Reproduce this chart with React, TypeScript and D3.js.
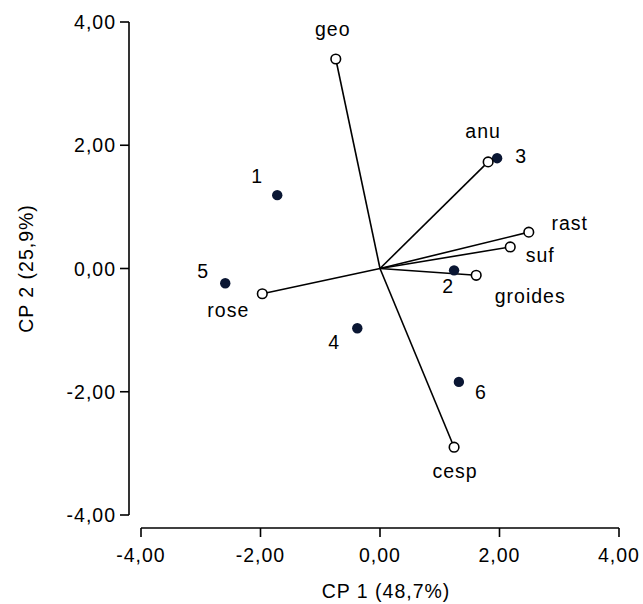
import React from 'react';
import * as d3 from 'd3';

// variable loadings (open circles with vectors)
const varNames = ['geo', 'anu', 'rast', 'suf', 'groides', 'rose', 'cesp'];
const varX = [-0.74, 1.81, 2.49, 2.18, 1.61, -1.97, 1.24];
const varY = [3.4, 1.73, 0.59, 0.35, -0.11, -0.41, -2.9];
// label offsets (px, baseline)
const varLabelDx = [-3, -5, 41, 30, 54, -34, 1];
const varLabelDy = [-23, -24, -2, 15, 28, 23, 31];

// samples (filled dots)
const obsNames = ['1', '2', '3', '4', '5', '6'];
const obsX = [-1.72, 1.24, 1.96, -0.38, -2.59, 1.32];
const obsY = [1.19, -0.03, 1.79, -0.97, -0.24, -1.84];
const obsLabelDx = [-20, -6, 24, -23, -22, 22];
const obsLabelDy = [-12, 23, 5, 21, -5, 17];

const tickVals = [-4, -2, 0, 2, 4];
const fmt = (d: number) => d.toFixed(2).replace('.', ',');

const App: React.FC = () => {
  const W = 643;
  const H = 604;
  const x = d3.scaleLinear().domain([-4, 4]).range([141, 619]);
  const y = d3.scaleLinear().domain([-4, 4]).range([515, 22]);
  const axisX = 129;
  const axisY = 528;
  const font = 'Arial, "Liberation Sans", sans-serif';
  const ink = '#000';
  const dot = '#0a1633';
  const fs = 19.5;
  const ls = 1;

  return (
    <svg width={W} height={H} style={{ position: 'absolute', left: 0, top: 0, background: '#fff' }} fontFamily={font}>
      {/* y axis */}
      <line x1={axisX} x2={axisX} y1={y(4)} y2={y(-4)} stroke={ink} strokeWidth={1.6} />
      {tickVals.map((t) => (
        <g key={'yt' + t}>
          <line x1={axisX - 9} x2={axisX} y1={y(t)} y2={y(t)} stroke={ink} strokeWidth={1.6} />
          <text x={axisX - 13} y={y(t) + 7} textAnchor="end" fontSize={fs} letterSpacing={ls} fill={ink}>
            {fmt(t)}
          </text>
        </g>
      ))}
      {/* x axis */}
      <line x1={x(-4)} x2={x(4)} y1={axisY} y2={axisY} stroke={ink} strokeWidth={1.6} />
      {tickVals.map((t) => (
        <g key={'xt' + t}>
          <line x1={x(t)} x2={x(t)} y1={axisY} y2={axisY + 9} stroke={ink} strokeWidth={1.6} />
          <text x={x(t)} y={562} textAnchor="middle" fontSize={fs} letterSpacing={ls} fill={ink}>
            {fmt(t)}
          </text>
        </g>
      ))}
      <text x={x(0) + 6} y={598} textAnchor="middle" fontSize={fs} letterSpacing={ls} fill={ink}>
        CP 1 (48,7%)
      </text>
      <text transform={`translate(33,${y(0)}) rotate(-90)`} textAnchor="middle" fontSize={fs} letterSpacing={ls} fill={ink}>
        CP 2 (25,9%)
      </text>

      {/* vectors */}
      {varNames.map((n, i) => (
        <line key={'v' + n} x1={x(0)} y1={y(0)} x2={x(varX[i])} y2={y(varY[i])} stroke={ink} strokeWidth={1.6} />
      ))}
      {/* samples */}
      {obsNames.map((n, i) => (
        <g key={'o' + n}>
          <circle cx={x(obsX[i])} cy={y(obsY[i])} r={5.2} fill={dot} />
          <text x={x(obsX[i]) + obsLabelDx[i]} y={y(obsY[i]) + obsLabelDy[i]} textAnchor="middle" fontSize={fs} letterSpacing={ls} fill={ink}>
            {n}
          </text>
        </g>
      ))}
      {/* variable points */}
      {varNames.map((n, i) => (
        <g key={'p' + n}>
          <circle cx={x(varX[i])} cy={y(varY[i])} r={4.8} fill="#fff" stroke={ink} strokeWidth={1.6} />
          <text x={x(varX[i]) + varLabelDx[i]} y={y(varY[i]) + varLabelDy[i]} textAnchor="middle" fontSize={fs} letterSpacing={ls} fill={ink}>
            {n}
          </text>
        </g>
      ))}
    </svg>
  );
};

export default App;
